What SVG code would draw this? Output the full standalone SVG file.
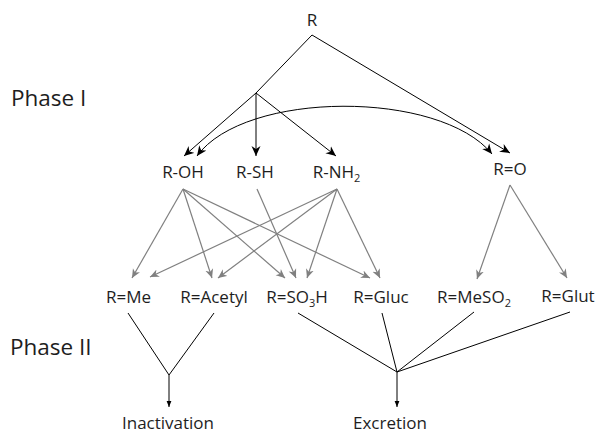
<svg xmlns="http://www.w3.org/2000/svg" width="599" height="433" viewBox="0 0 599 433">
  <style>
    text { font-family: "Open Sans", "Noto Sans", "Liberation Sans", sans-serif; fill: #1e1e1e; }
    .node { font-size: 17px; text-anchor: middle; }
    .phase { font-size: 22.5px; }
    .sub { font-size: 11px; }
    .k { stroke: #000; stroke-width: 1; fill: none; }
    .g { stroke: #808080; stroke-width: 1.2; fill: none; }
  </style>
  <defs>
    <marker id="arrowBlack" viewBox="0 0 10 10" markerUnits="userSpaceOnUse" markerWidth="10" markerHeight="10" refX="10" refY="5" orient="auto-start-reverse">
      <path d="M0,0.5 L10,5 L0,9.5 L3,5 Z" fill="#000"/>
    </marker>
    <marker id="arrowGray" viewBox="0 0 10 10" markerUnits="userSpaceOnUse" markerWidth="9" markerHeight="9" refX="10" refY="5" orient="auto">
      <path d="M0,0.5 L10,5 L0,9.5 L3,5 Z" fill="#808080"/>
    </marker>
    <marker id="arrowSmall" viewBox="0 0 10 10" markerUnits="userSpaceOnUse" markerWidth="6" markerHeight="6" refX="10" refY="5" orient="auto">
      <path d="M0,1 L10,5 L0,9 Z" fill="#000"/>
    </marker>
  </defs>

  <text class="phase" x="11" y="106">Phase I</text>
  <text class="phase" x="10" y="355">Phase II</text>

  <g id="connectors">
    <!-- Phase I: R to primary metabolites -->
    <line class="k" x1="312" y1="35" x2="256" y2="93"/>
    <line class="k" x1="256" y1="93" x2="184" y2="156" marker-end="url(#arrowBlack)"/>
    <line class="k" x1="256" y1="93" x2="256" y2="156" marker-end="url(#arrowBlack)"/>
    <line class="k" x1="256" y1="93" x2="336" y2="156" marker-end="url(#arrowBlack)"/>
    <line class="k" x1="312" y1="35" x2="510" y2="153" marker-end="url(#arrowBlack)"/>
    <path class="k" d="M197,156 C245,90 440,90 492,154" marker-start="url(#arrowBlack)" marker-end="url(#arrowBlack)"/>

    <!-- Phase II conjugations -->
    <line class="g" x1="183" y1="189" x2="132" y2="278" marker-end="url(#arrowGray)"/>
    <line class="g" x1="183" y1="189" x2="212" y2="278" marker-end="url(#arrowGray)"/>
    <line class="g" x1="183" y1="189" x2="285" y2="278" marker-end="url(#arrowGray)"/>
    <line class="g" x1="183" y1="189" x2="370" y2="278" marker-end="url(#arrowGray)"/>
    <line class="g" x1="257" y1="189" x2="296" y2="278" marker-end="url(#arrowGray)"/>
    <line class="g" x1="337" y1="189" x2="150" y2="277" marker-end="url(#arrowGray)"/>
    <line class="g" x1="337" y1="189" x2="218" y2="278" marker-end="url(#arrowGray)"/>
    <line class="g" x1="337" y1="189" x2="307" y2="278" marker-end="url(#arrowGray)"/>
    <line class="g" x1="337" y1="189" x2="380" y2="278" marker-end="url(#arrowGray)"/>
    <line class="g" x1="510" y1="185" x2="477" y2="279" marker-end="url(#arrowGray)"/>
    <line class="g" x1="510" y1="185" x2="567" y2="278" marker-end="url(#arrowGray)"/>

    <!-- Fates -->
    <line class="k" x1="128" y1="313" x2="169" y2="375"/>
    <line class="k" x1="214" y1="313" x2="169" y2="375"/>
    <line class="k" x1="169" y1="375" x2="169" y2="407" marker-end="url(#arrowSmall)"/>
    <line class="k" x1="298" y1="313" x2="397" y2="372"/>
    <line class="k" x1="382" y1="313" x2="397" y2="372"/>
    <line class="k" x1="474" y1="312" x2="397" y2="372"/>
    <line class="k" x1="570" y1="312" x2="397" y2="372"/>
    <line class="k" x1="397" y1="372" x2="397" y2="407" marker-end="url(#arrowSmall)"/>
  </g>

  <g id="n-R"><text class="node" x="312" y="26">R</text></g>
  <g id="n-ROH"><text class="node" x="183" y="178">R-OH</text></g>
  <g id="n-RSH"><text class="node" x="255" y="178">R-SH</text></g>
  <g id="n-RNH2"><text class="node" x="336.5" y="178">R-NH<tspan class="sub" dy="4">2</tspan></text></g>
  <g id="n-RO"><text class="node" x="510" y="175">R=O</text></g>
  <g id="n-RMe"><text class="node" x="128.5" y="303">R=Me</text></g>
  <g id="n-RAcetyl"><text class="node" x="214" y="303">R=Acetyl</text></g>
  <g id="n-RSO3H"><text class="node" x="297" y="303">R=SO<tspan class="sub" dy="4">3</tspan><tspan dy="-4">H</tspan></text></g>
  <g id="n-RGluc"><text class="node" x="381" y="303">R=Gluc</text></g>
  <g id="n-RMeSO2"><text class="node" x="474" y="303">R=MeSO<tspan class="sub" dy="4">2</tspan></text></g>
  <g id="n-RGlut"><text class="node" x="568" y="302">R=Glut</text></g>
  <g id="n-inactivation"><text class="node" x="168" y="429">Inactivation</text></g>
  <g id="n-excretion"><text class="node" x="390" y="429">Excretion</text></g>
</svg>
